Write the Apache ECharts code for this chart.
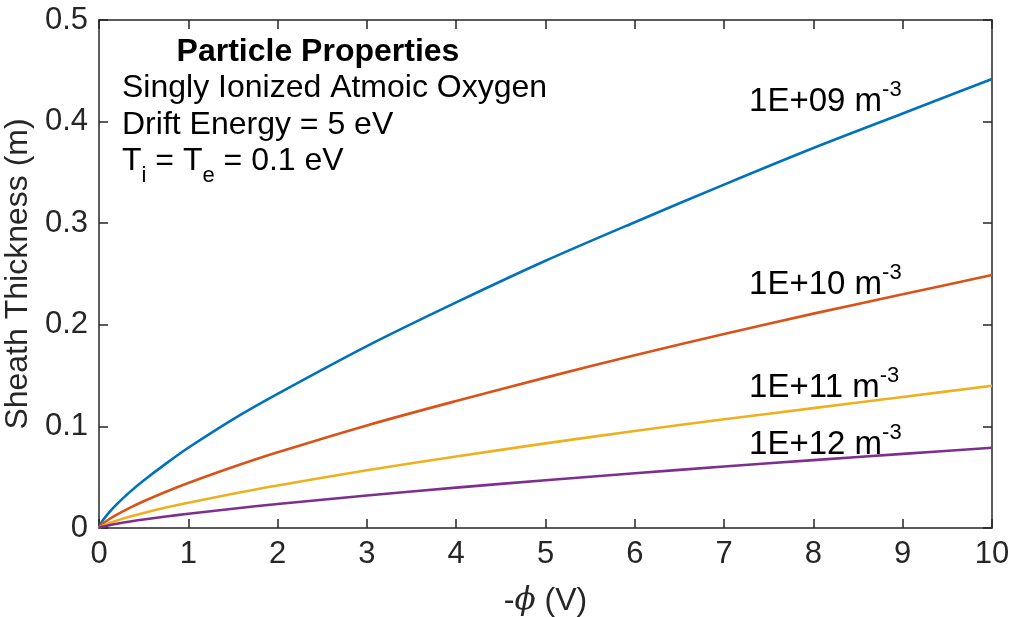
<!DOCTYPE html>
<html>
<head>
<meta charset="utf-8">
<script src="https://cdn.jsdelivr.net/npm/echarts@6/dist/echarts.min.js"></script>
<style>
html,body{margin:0;padding:0;background:#fff;}
#chart{width:1015px;height:617px;}
</style>
</head>
<body>
<div id="chart"></div>
<script>
// Potential values -phi (V)
const phi = [0, 0.02, 0.05, 0.1, 0.2, 0.35, 0.5, 0.75, 1, 1.5, 2, 3, 4, 5, 6, 7, 8, 9, 10];
// Sheath thickness (m) for each plasma density
const n1e09 = [0, 0.0042, 0.0083, 0.014, 0.0235, 0.0358, 0.0468, 0.0634, 0.079, 0.107, 0.132, 0.179, 0.222, 0.263, 0.301, 0.338, 0.374, 0.408, 0.442];
const n1e10 = [0, 0.0024, 0.0047, 0.0079, 0.0132, 0.0201, 0.0263, 0.0357, 0.0443, 0.060, 0.0745, 0.101, 0.125, 0.148, 0.170, 0.191, 0.211, 0.230, 0.249];
const n1e11 = [0, 0.0013, 0.0026, 0.0044, 0.0074, 0.0113, 0.0148, 0.0201, 0.0249, 0.0337, 0.0419, 0.0568, 0.0704, 0.0833, 0.0955, 0.107, 0.118, 0.129, 0.140];
const n1e12 = [0, 0.0008, 0.0015, 0.0025, 0.0042, 0.0064, 0.0084, 0.0113, 0.014, 0.019, 0.0236, 0.032, 0.0397, 0.047, 0.0539, 0.0605, 0.0668, 0.073, 0.079];
const seriesNames = ['1E+09', '1E+10', '1E+11', '1E+12'];
const seriesData = [n1e09, n1e10, n1e11, n1e12];
const colors = ['#0072BD', '#D95319', '#EDB120', '#7E2F8E'];
// label anchor positions (data coords) for density labels
const labelPos = [[7.28, 0.419], [7.28, 0.239], [7.28, 0.138], [7.28, 0.082]];
const infoTitle = 'Particle Properties';
const infoLines = ['Singly Ionized Atmoic Oxygen', 'Drift Energy = 5 eV'];

const FONT = 'Liberation Sans, Arial, Helvetica, sans-serif';
const axisColor = '#262626';

const chart = echarts.init(document.getElementById('chart'), null, {renderer: 'canvas'});

function pairs(d) { return phi.map((x, i) => [x, d[i]]); }

const baseX = {
  type: 'value', min: 0, max: 10, interval: 1,
  axisLine: {show: true, onZero: false, lineStyle: {color: axisColor, width: 1.5}},
  axisTick: {show: true, inside: true, length: 9, lineStyle: {color: axisColor, width: 1.5}},
  splitLine: {show: false}
};
const baseY = {
  type: 'value', min: 0, max: 0.5, interval: 0.1,
  axisLine: {show: true, onZero: false, lineStyle: {color: axisColor, width: 1.5}},
  axisTick: {show: true, inside: true, length: 9, lineStyle: {color: axisColor, width: 1.5}},
  splitLine: {show: false}
};

const option = {
  animation: false,
  backgroundColor: '#fff',
  grid: {left: 99, right: 23, top: 20, bottom: 89, containLabel: false, outerBoundsMode: 'none'},
  xAxis: [
    Object.assign({}, baseX, {
      position: 'bottom',
      name: '-{i|ϕ} (V)', nameLocation: 'middle', nameGap: 57,
      nameTextStyle: {fontFamily: FONT, fontSize: 32, color: axisColor,
        rich: {i: {fontFamily: 'DejaVu Serif', fontStyle: 'italic', fontSize: 31, color: axisColor}}},
      axisLabel: {show: true, fontFamily: FONT, fontSize: 31, color: axisColor, margin: 11}
    }),
    Object.assign({}, baseX, {position: 'top', axisLabel: {show: false}})
  ],
  yAxis: [
    Object.assign({}, baseY, {
      position: 'left',
      name: 'Sheath Thickness (m)', nameLocation: 'middle', nameGap: 52,
      nameTextStyle: {fontFamily: FONT, fontSize: 32, color: axisColor},
      axisLabel: {show: true, fontFamily: FONT, fontSize: 31, color: axisColor, margin: 11}
    }),
    Object.assign({}, baseY, {position: 'right', axisLabel: {show: false}})
  ],
  series: seriesData.map((d, i) => ({
    name: seriesNames[i], type: 'line', data: pairs(d), smooth: 0.3,
    showSymbol: false, symbol: 'none',
    lineStyle: {color: colors[i], width: 2.6}, itemStyle: {color: colors[i]},
    xAxisIndex: 0, yAxisIndex: 0
  }))
};
chart.setOption(option);

// Annotations
const g = [];
g.push({type: 'text', x: 318, y: 52, style: {text: infoTitle, fontFamily: FONT, fontWeight: 'bold', fontSize: 32, fill: '#000', align: 'center', verticalAlign: 'middle'}});
g.push({type: 'text', x: 122, y: 88, style: {text: infoLines[0], fontFamily: FONT, fontSize: 32, fill: '#000', align: 'left', verticalAlign: 'middle'}});
g.push({type: 'text', x: 122, y: 125, style: {text: infoLines[1], fontFamily: FONT, fontSize: 32, fill: '#000', align: 'left', verticalAlign: 'middle'}});
g.push({type: 'text', x: 122, y: 161, style: {
  text: 'T{s|i} = T{s|e} = 0.1 eV', fontFamily: FONT, fontSize: 32, fill: '#000', align: 'left', verticalAlign: 'middle',
  rich: {s: {fontFamily: FONT, fontSize: 22, fill: '#000', padding: [30, 0, 0, 0]}}
}});
labelPos.forEach((p, i) => {
  const px = chart.convertToPixel({xAxisIndex: 0, yAxisIndex: 0}, p);
  g.push({type: 'text', x: px[0], y: px[1], style: {
    text: seriesNames[i] + ' m{s|-3}', fontFamily: FONT, fontSize: 33, fill: '#000', align: 'left', verticalAlign: 'middle',
    rich: {s: {fontFamily: FONT, fontSize: 22, fill: '#000', padding: [0, 0, 24, 0]}}
  }});
});
chart.setOption({graphic: g});
</script>
</body>
</html>
